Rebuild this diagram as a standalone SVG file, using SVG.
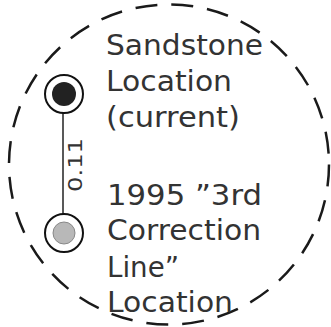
<svg xmlns="http://www.w3.org/2000/svg" width="331" height="327" viewBox="0 0 331 327">
<style>
.lbl{font-family:"DejaVu Sans","Liberation Sans",sans-serif;font-size:28px;fill:#333}
.dim{font-family:"DejaVu Sans","Liberation Sans",sans-serif;font-size:20px;fill:#333}
.ring{fill:#fff;stroke:#111;stroke-width:2}
</style>
<rect width="331" height="327" fill="#fff"/>
<g id="boundary">
<circle cx="169" cy="164.5" r="160" fill="none" stroke="#1a1a1a" stroke-width="2.5" stroke-dasharray="22 14"/>
</g>
<g id="connectors">
<line x1="63" y1="113" x2="63" y2="222" stroke="#222" stroke-width="1.5"/>
<text class="dim" transform="translate(82,165) rotate(-90)" text-anchor="middle" textLength="54" lengthAdjust="spacingAndGlyphs">0.11</text>
</g>
<g id="sandstone">
<circle class="ring" cx="64" cy="94" r="19"/>
<circle cx="64" cy="94" r="12" fill="#222"/>
<text class="lbl" x="106" y="55" textLength="157" lengthAdjust="spacingAndGlyphs">Sandstone</text>
<text class="lbl" x="106" y="91" textLength="126" lengthAdjust="spacingAndGlyphs">Location</text>
<text class="lbl" x="106" y="127" textLength="134" lengthAdjust="spacingAndGlyphs">(current)</text>
</g>
<g id="correction">
<circle class="ring" cx="64" cy="233" r="19"/>
<circle cx="64" cy="233" r="11" fill="#b8b8b8" stroke="#888" stroke-width="1"/>
<text class="lbl" x="107" y="205" textLength="155" lengthAdjust="spacingAndGlyphs">1995 ”3rd</text>
<text class="lbl" x="107" y="240" textLength="154" lengthAdjust="spacingAndGlyphs">Correction</text>
<text class="lbl" x="107" y="277" textLength="72" lengthAdjust="spacingAndGlyphs">Line”</text>
<text class="lbl" x="107" y="312" textLength="126" lengthAdjust="spacingAndGlyphs">Location</text>
</g>
</svg>
